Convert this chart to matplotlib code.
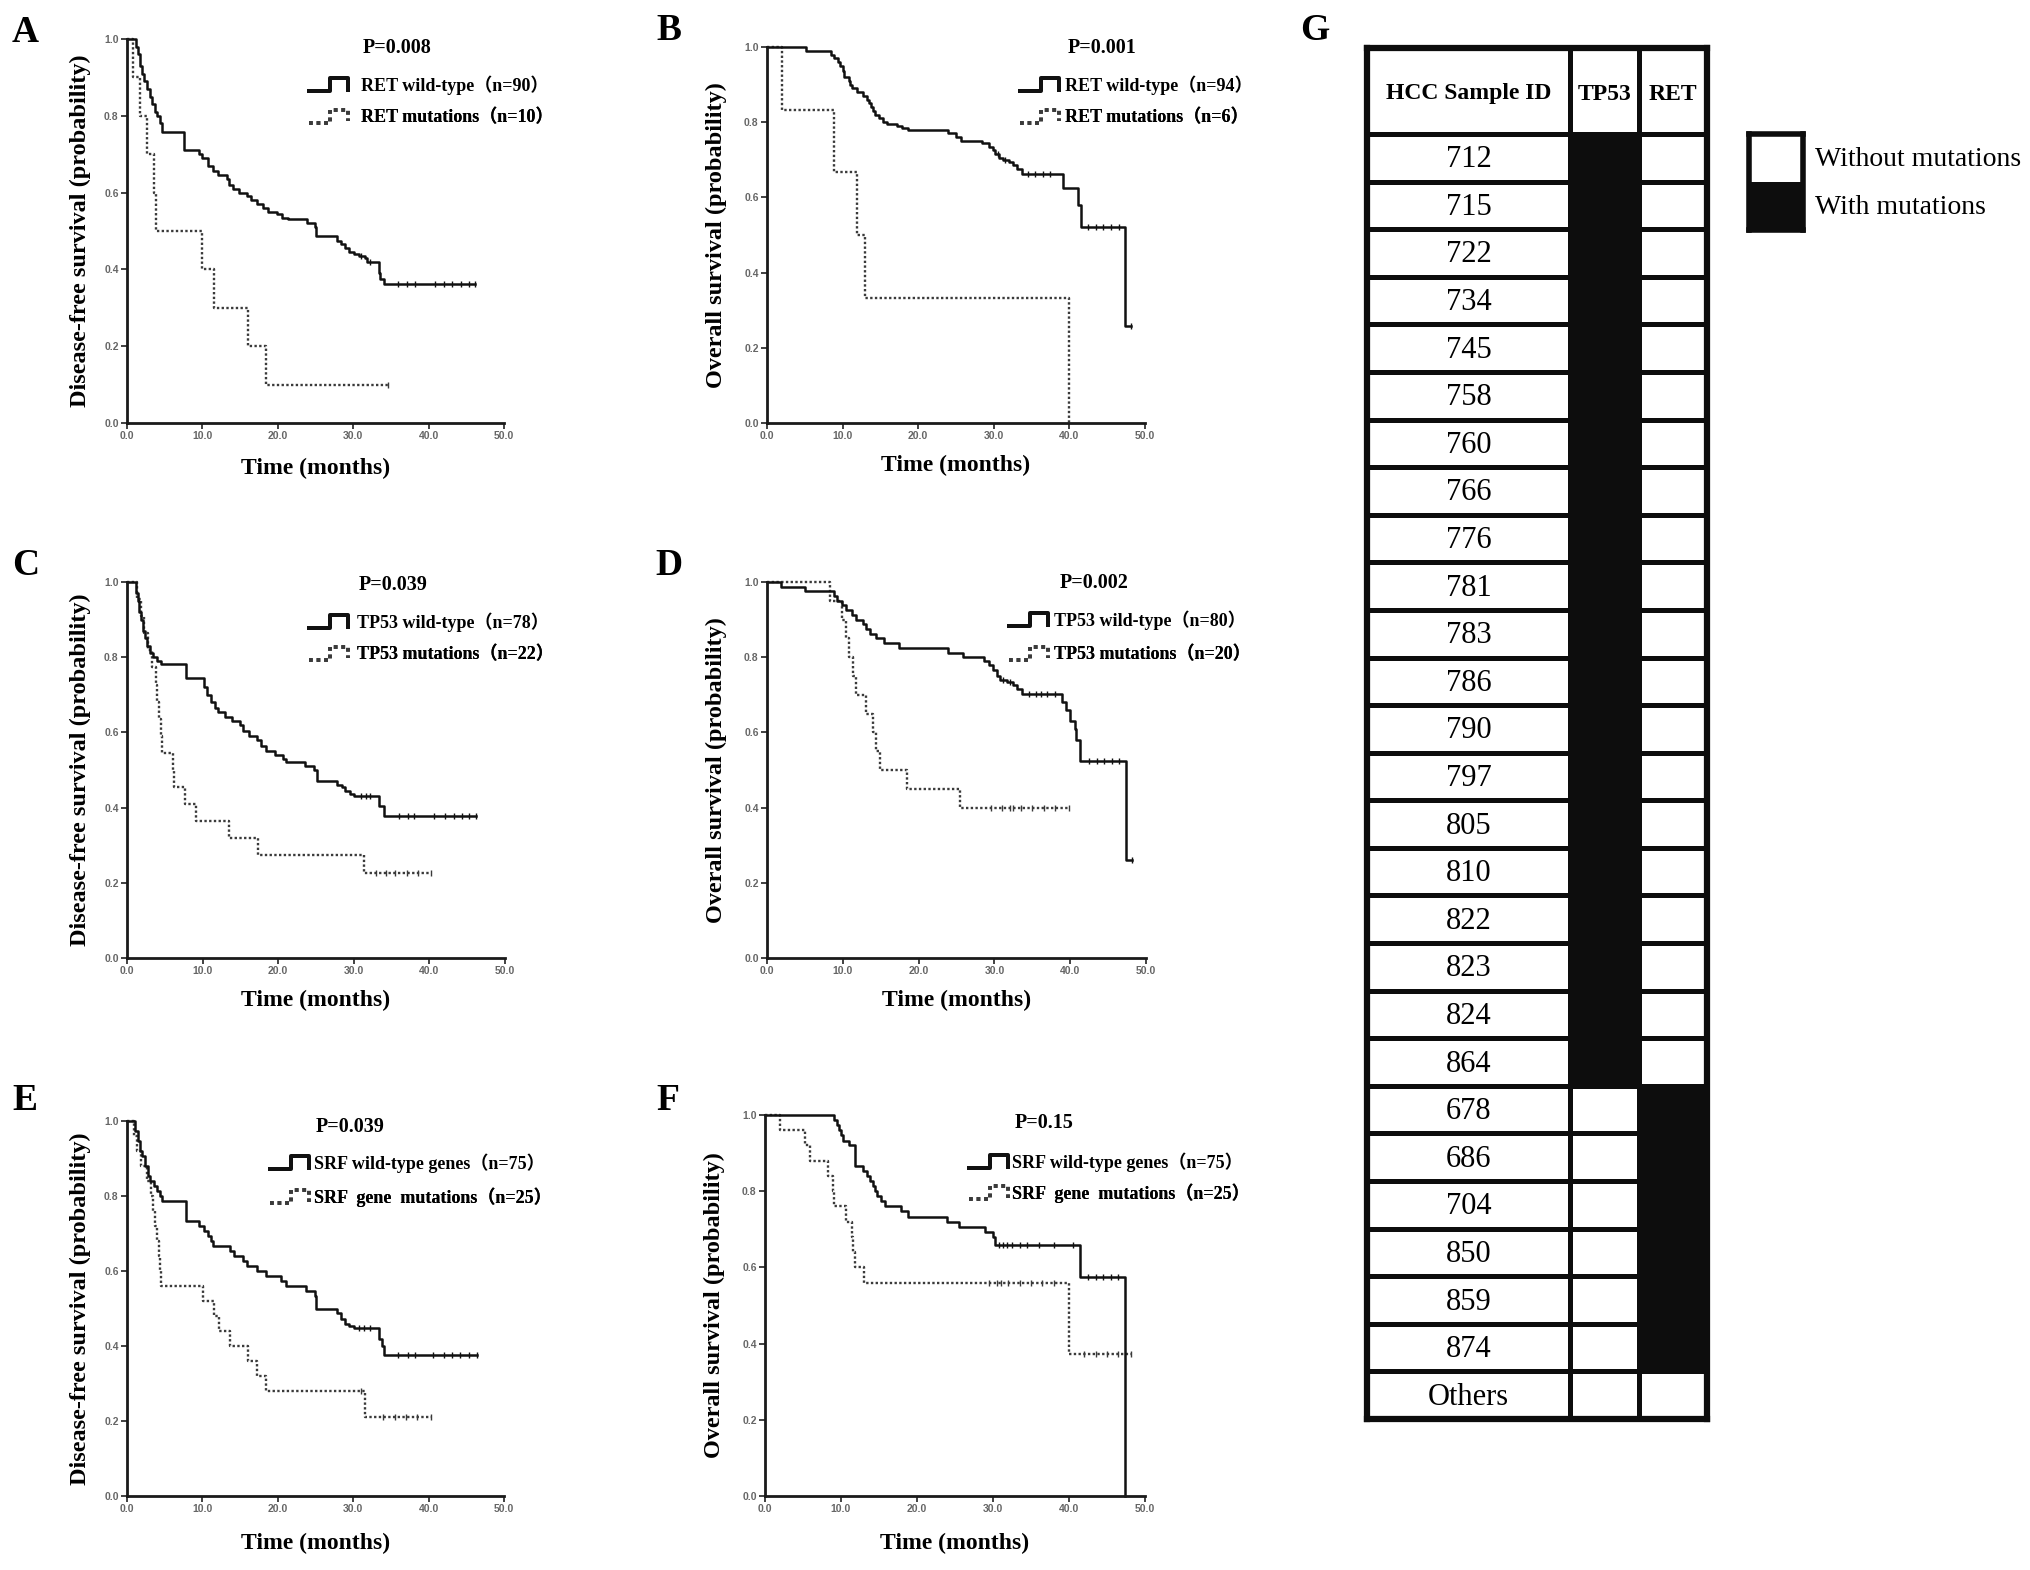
import numpy as np
import matplotlib
matplotlib.use('Agg')
import matplotlib.pyplot as plt
from matplotlib.lines import Line2D
from matplotlib.legend_handler import HandlerBase
from matplotlib.colors import ListedColormap
from matplotlib.font_manager import FontProperties

SERIF = ['Liberation Serif', 'Noto Sans CJK SC']
plt.rcParams['font.family'] = SERIF

# ---------------- DATA ----------------
# Panel A: Disease-free survival, RET
a_wt_t = [0, 1.2, 1.5, 1.7, 2.0, 2.3, 2.6, 3.0, 3.3, 3.7, 4.0, 4.4, 4.7, 7.6, 9.5, 10.0, 10.7, 11.4, 12.1, 13.3,
          13.5, 14.0, 14.9, 15.9, 16.4, 17.3, 18.0, 18.7, 19.9, 20.6, 21.3, 23.9, 24.9, 25.1, 27.9, 28.4, 28.9,
          29.4, 30.1, 30.8, 31.5, 31.8, 33.4, 33.6, 34.1, 46.2]
a_wt_s = [1.0, 0.98, 0.96, 0.93, 0.91, 0.89, 0.87, 0.85, 0.83, 0.81, 0.80, 0.78, 0.757, 0.711, 0.70, 0.69, 0.67,
          0.655, 0.645, 0.635, 0.62, 0.61, 0.60, 0.59, 0.58, 0.57, 0.56, 0.55, 0.545, 0.535, 0.53, 0.52, 0.51,
          0.486, 0.475, 0.465, 0.455, 0.445, 0.44, 0.435, 0.43, 0.42, 0.39, 0.375, 0.362, 0.362]
a_wt_c = [31.0, 32.2, 36.0, 37.2, 38.2, 40.8, 42.0, 43.1, 44.3, 45.3, 46.2]
a_mu_t = [0, 0.8, 1.7, 2.6, 3.6, 3.8, 10.0, 11.6, 16.0, 18.5, 34.6]
a_mu_s = [1.0, 0.9, 0.8, 0.7, 0.6, 0.5, 0.4, 0.3, 0.2, 0.1, 0.1]
a_mu_c = [34.6]

# Panel B: Overall survival, RET
b_wt_t = [0, 5.1, 8.4, 8.9, 9.4, 9.7, 10.0, 10.2, 10.8, 11.0, 11.3, 11.9, 12.7, 13.2, 13.5, 13.7, 14.0, 14.3,
          14.8, 15.4, 15.9, 17.2, 17.8, 18.6, 24.0, 25.0, 25.6, 28.5, 29.4, 29.9, 30.2, 30.7, 31.2, 32.0, 32.6,
          33.1, 33.7, 39.1, 41.1, 41.5, 47.4, 48.2]
b_wt_s = [1.0, 0.99, 0.98, 0.97, 0.96, 0.95, 0.935, 0.92, 0.91, 0.90, 0.89, 0.88, 0.87, 0.86, 0.85, 0.84, 0.83,
          0.82, 0.81, 0.80, 0.795, 0.79, 0.785, 0.78, 0.77, 0.76, 0.75, 0.745, 0.735, 0.725, 0.715, 0.705, 0.70,
          0.695, 0.685, 0.675, 0.662, 0.624, 0.58, 0.52, 0.258, 0.258]
b_wt_c = [30.5, 31.5, 34.5, 35.5, 36.5, 37.5, 42.5, 43.5, 44.5, 45.5, 46.5, 48.2]
b_mu_t = [0, 2.0, 8.9, 11.9, 13.0, 40.0]
b_mu_s = [1.0, 0.833, 0.667, 0.5, 0.333, 0.0]
b_mu_c = []

# Panel C: Disease-free survival, TP53
c_wt_t = [0, 1.2, 1.45, 1.65, 1.9, 2.1, 2.35, 2.7, 3.1, 3.5, 4.0, 4.5, 7.8, 10.2, 10.6, 11.1, 11.6, 12.1, 13.0,
          13.9, 14.9, 15.4, 16.1, 17.2, 17.7, 18.4, 19.6, 20.6, 21.0, 23.6, 24.8, 25.1, 27.8, 28.4, 28.9, 29.5,
          30.0, 33.3, 34.0, 46.2]
c_wt_s = [1.0, 0.97, 0.95, 0.92, 0.90, 0.87, 0.85, 0.83, 0.81, 0.80, 0.79, 0.783, 0.745, 0.72, 0.70, 0.68,
          0.665, 0.655, 0.64, 0.63, 0.62, 0.605, 0.59, 0.58, 0.565, 0.55, 0.54, 0.53, 0.52, 0.51, 0.50, 0.47,
          0.46, 0.455, 0.445, 0.435, 0.43, 0.405, 0.378, 0.378]
c_wt_c = [31.0, 31.6, 32.2, 36.0, 37.2, 38.0, 40.6, 42.0, 43.2, 44.3, 45.3, 46.2]
c_mu_t = [0, 1.3, 1.8, 2.3, 2.8, 3.3, 3.85, 4.0, 4.25, 4.45, 4.6, 6.05, 6.2, 7.7, 9.1, 13.5, 17.3, 31.4, 40.2]
c_mu_s = [1.0, 0.955, 0.909, 0.864, 0.818, 0.773, 0.727, 0.682, 0.636, 0.591, 0.545, 0.50, 0.455, 0.409,
          0.364, 0.318, 0.273, 0.227, 0.227]
c_mu_c = [33.0, 34.2, 35.5, 37.0, 38.5, 40.2]

# Panel D: Overall survival, TP53
d_wt_t = [0, 1.8, 5.0, 8.8, 9.3, 9.9, 10.4, 11.2, 11.7, 12.6, 13.1, 13.6, 14.4, 15.5, 17.4, 23.9, 25.8, 28.6,
          29.3, 29.8, 30.3, 30.8, 31.6, 32.5, 33.0, 33.6, 38.9, 39.5, 40.0, 40.6, 40.8, 41.3, 47.3, 48.1]
d_wt_s = [1.0, 0.988, 0.975, 0.963, 0.95, 0.94, 0.925, 0.912, 0.90, 0.888, 0.875, 0.863, 0.85, 0.838, 0.825,
          0.812, 0.80, 0.79, 0.78, 0.765, 0.75, 0.74, 0.735, 0.725, 0.715, 0.703, 0.68, 0.66, 0.63, 0.61, 0.58,
          0.524, 0.261, 0.261]
d_wt_c = [31.2, 32.0, 34.5, 35.5, 36.2, 37.0, 38.0, 42.5, 43.5, 44.5, 45.5, 46.5, 48.1]
d_mu_t = [0, 8.3, 9.9, 10.4, 10.8, 11.3, 11.7, 13.1, 14.0, 14.4, 14.9, 18.5, 25.5, 39.8]
d_mu_s = [1.0, 0.95, 0.90, 0.85, 0.80, 0.75, 0.70, 0.65, 0.60, 0.55, 0.50, 0.45, 0.40, 0.40]
d_mu_c = [29.5, 31.0, 32.0, 32.5, 33.5, 35.0, 36.5, 38.0, 39.8]

# Panel E: Disease-free survival, SRF
e_wt_t = [0, 1.1, 1.4, 1.7, 2.0, 2.4, 2.8, 3.1, 3.6, 4.0, 4.4, 4.7, 7.8, 9.5, 10.2, 10.7, 11.1, 11.4, 13.7,
          14.2, 15.4, 15.9, 17.3, 18.5, 20.4, 21.1, 23.8, 24.9, 25.1, 27.9, 28.4, 28.9, 29.4, 30.1, 33.4, 33.8,
          34.1, 46.4]
e_wt_s = [1.0, 0.973, 0.947, 0.92, 0.907, 0.88, 0.853, 0.84, 0.827, 0.813, 0.80, 0.787, 0.733, 0.72, 0.707,
          0.693, 0.68, 0.667, 0.653, 0.64, 0.627, 0.613, 0.60, 0.587, 0.573, 0.56, 0.547, 0.533, 0.50, 0.487,
          0.473, 0.46, 0.453, 0.447, 0.42, 0.40, 0.375, 0.375]
e_wt_c = [30.8, 31.4, 32.2, 36.0, 37.3, 38.2, 40.6, 42.0, 43.1, 44.2, 45.3, 46.4]
e_mu_t = [0, 0.9, 1.3, 1.9, 2.6, 3.2, 3.5, 3.7, 4.0, 4.2, 4.35, 4.55, 10.1, 11.6, 12.2, 13.6, 16.1, 17.3, 18.5,
          31.5, 40.3]
e_mu_s = [1.0, 0.96, 0.92, 0.88, 0.84, 0.80, 0.76, 0.72, 0.68, 0.64, 0.60, 0.56, 0.52, 0.48, 0.44, 0.40, 0.36,
          0.32, 0.28, 0.21, 0.21]
e_mu_c = [31.0, 34.0, 35.6, 37.0, 38.5, 40.3]

# Panel F: Overall survival, SRF
f_wt_t = [0, 9.1, 9.5, 9.8, 10.0, 10.3, 11.0, 11.8, 11.9, 12.9, 13.4, 13.8, 14.2, 14.5, 14.7, 15.3, 15.8, 17.9,
          18.8, 24.0, 25.5, 28.9, 30.0, 30.3, 41.5, 47.4]
f_wt_s = [1.0, 0.987, 0.973, 0.96, 0.947, 0.933, 0.92, 0.893, 0.867, 0.853, 0.84, 0.827, 0.813, 0.80, 0.787,
          0.773, 0.76, 0.747, 0.733, 0.72, 0.707, 0.693, 0.68, 0.659, 0.576, 0.0]
f_wt_c = [30.8, 31.3, 31.8, 32.5, 33.5, 34.5, 36.0, 38.0, 40.5, 42.5, 43.5, 44.5, 45.5, 46.5]
f_mu_t = [0, 2.0, 5.3, 5.9, 8.3, 8.95, 9.1, 10.7, 11.4, 11.6, 11.9, 13.0, 40.0, 48.2]
f_mu_s = [1.0, 0.96, 0.92, 0.88, 0.84, 0.80, 0.76, 0.72, 0.68, 0.64, 0.60, 0.56, 0.373, 0.373]
f_mu_c = [29.5, 30.5, 31.0, 32.0, 33.5, 35.0, 36.5, 38.0, 42.0, 43.5, 45.0, 46.5, 48.2]

p_values = ['P=0.008', 'P=0.001', 'P=0.039', 'P=0.002', 'P=0.039', 'P=0.15']
legend_labels = [
    ['RET wild-type（n=90）', 'RET mutations（n=10）'],
    ['RET wild-type（n=94）', 'RET mutations（n=6）'],
    ['TP53 wild-type（n=78）', 'TP53 mutations（n=22）'],
    ['TP53 wild-type（n=80）', 'TP53 mutations（n=20）'],
    ['SRF wild-type genes（n=75）', 'SRF  gene  mutations（n=25）'],
    ['SRF wild-type genes（n=75）', 'SRF  gene  mutations（n=25）'],
]
ylabels = ['Disease-free survival (probability)', 'Overall survival (probability)'] * 3
xlabel = 'Time (months)'
x_ticks = [0, 10, 20, 30, 40, 50]
x_ticklabels = ['0.0', '10.0', '20.0', '30.0', '40.0', '50.0']
y_ticks = [0.0, 0.2, 0.4, 0.6, 0.8, 1.0]
y_ticklabels = ['0.0', '0.2', '0.4', '0.6', '0.8', '1.0']

# Panel G table
sample_ids = ['712', '715', '722', '734', '745', '758', '760', '766', '776', '781', '783', '786', '790', '797',
              '805', '810', '822', '823', '824', '864', '678', '686', '704', '850', '859', '874', 'Others']
tp53_mut = [1, 1, 1, 1, 1, 1, 1, 1, 1, 1, 1, 1, 1, 1, 1, 1, 1, 1, 1, 1, 0, 0, 0, 0, 0, 0, 0]
ret_mut = [0, 0, 0, 0, 0, 0, 0, 0, 0, 0, 0, 0, 0, 0, 0, 0, 0, 0, 0, 0, 1, 1, 1, 1, 1, 1, 0]
table_header = ['HCC Sample ID', 'TP53', 'RET']
g_legend = ['Without mutations', 'With mutations']

# ---------------- LAYOUT ----------------
W, H = 2031, 1570
fig = plt.figure(figsize=(W / 100, H / 100), dpi=100)
fig.patch.set_facecolor('white')


def box(x0, y0, x1, y1):
    return [x0 / W, 1 - y1 / H, (x1 - x0) / W, (y1 - y0) / H]


def fx(x):
    return x / W


def fy(y):
    return 1 - y / H


SOLID = dict(color='#111111', lw=1.8, ls='-')
DOTTED = dict(color='#3a3a3a', lw=1.7, ls=(0, (1, 1)))


class StepHandler(HandlerBase):
    def create_artists(self, legend, orig_handle, xdescent, ydescent, width, height, fontsize, trans):
        px = np.array([0.0, 0.55, 0.55, 1.0, 1.0])
        py = np.array([0.0, 0.0, 1.0, 1.0, 0.1])
        ln = Line2D(px * width - xdescent, py * height - ydescent)
        ln.update_from(orig_handle)
        ln.set_linewidth(orig_handle.get_linewidth() * 1.6)
        ln.set_transform(trans)
        return [ln]


def step_at(t, s, c):
    idx = np.searchsorted(np.asarray(t), np.asarray(c), side='right') - 1
    return np.asarray(s)[idx]


def km(ax, t, s, cens, style):
    ax.step(t, s, where='post', clip_on=False, **style)
    if len(cens):
        ax.plot(cens, step_at(t, s, cens), ls='none', marker='|', ms=4.5, mew=1.0,
                color=style['color'], clip_on=False)


panels = [
    dict(box=(127, 39, 504, 423), letter='A', lpos=(12, 42), data=(a_wt_t, a_wt_s, a_wt_c, a_mu_t, a_mu_s, a_mu_c),
         ppos=(397, 48), leg=(309, 85, 118, 0.72), ylx=-0.095, xly=-0.09),
    dict(box=(767, 47, 1145, 423), letter='B', lpos=(656, 40), data=(b_wt_t, b_wt_s, b_wt_c, b_mu_t, b_mu_s, b_mu_c),
         ppos=(1102, 48), leg=(1020, 85, 118, 0.33), ylx=-0.106, xly=-0.085),
    dict(box=(127, 582, 505, 958), letter='C', lpos=(12, 575), data=(c_wt_t, c_wt_s, c_wt_c, c_mu_t, c_mu_s, c_mu_c),
         ppos=(393, 585), leg=(309, 622, 655, 0.5), ylx=-0.095, xly=-0.085),
    dict(box=(767, 582, 1146, 958), letter='D', lpos=(655, 575), data=(d_wt_t, d_wt_s, d_wt_c, d_mu_t, d_mu_s, d_mu_c),
         ppos=(1094, 583), leg=(1009, 620, 655, 0.33), ylx=-0.106, xly=-0.085),
    dict(box=(127, 1121, 504, 1496), letter='E', lpos=(12, 1110), data=(e_wt_t, e_wt_s, e_wt_c, e_mu_t, e_mu_s, e_mu_c),
         ppos=(350, 1127), leg=(270, 1163, 1197, 0.28), ylx=-0.095, xly=-0.099),
    dict(box=(765, 1115, 1145, 1496), letter='F', lpos=(656, 1110), data=(f_wt_t, f_wt_s, f_wt_c, f_mu_t, f_mu_s, f_mu_c),
         ppos=(1044, 1123), leg=(969, 1162, 1193, 0.22), ylx=-0.106, xly=-0.097),
]

leg_prop = FontProperties(family=SERIF, weight='bold', size=13)

for i, p in enumerate(panels):
    ax = fig.add_axes(box(*p['box']))
    wt_t, wt_s, wt_c, mu_t, mu_s, mu_c = p['data']
    km(ax, mu_t, mu_s, mu_c, DOTTED)
    km(ax, wt_t, wt_s, wt_c, SOLID)
    ax.set_xlim(0, 50)
    ax.set_ylim(0, 1.0)
    for sp in ['top', 'right']:
        ax.spines[sp].set_visible(False)
    for sp in ['left', 'bottom']:
        ax.spines[sp].set_linewidth(2.0)
        ax.spines[sp].set_color('#1a1a1a')
    ax.set_xticks(x_ticks)
    ax.set_xticklabels(x_ticklabels)
    ax.set_yticks(y_ticks)
    ax.set_yticklabels(y_ticklabels)
    ax.tick_params(direction='out', length=4, width=1.3, color='#333333', labelsize=7.5,
                   labelcolor='#666666', pad=2)
    for lab in ax.get_xticklabels() + ax.get_yticklabels():
        lab.set_fontfamily('Liberation Sans')
        lab.set_fontweight('bold')
    ax.set_ylabel(ylabels[i], fontsize=17.5, fontweight='bold')
    ax.yaxis.set_label_coords(p['ylx'], 0.5)
    ax.set_xlabel(xlabel, fontsize=17, fontweight='bold')
    ax.xaxis.set_label_coords(0.5, p['xly'])
    ax.patch.set_alpha(0)

    fig.text(fx(p['lpos'][0]), fy(p['lpos'][1]), p['letter'], fontsize=27, fontweight='bold',
             va='baseline', ha='left')
    fig.text(fx(p['ppos'][0]), fy(p['ppos'][1]), p_values[i], fontsize=14.5, fontweight='bold',
             va='center', ha='center')

    hx, r1, r2, pad = p['leg']
    handles = [Line2D([], [], **SOLID), Line2D([], [], **DOTTED)]
    for h, lab, ry in zip(handles, legend_labels[i], (r1, r2)):
        leg = ax.legend([h], [lab], loc='center left', bbox_to_anchor=(fx(hx), fy(ry)),
                        bbox_transform=fig.transFigure, frameon=False, borderpad=0, borderaxespad=0,
                        handlelength=2.15, handleheight=0.7, handletextpad=pad, prop=leg_prop,
                        handler_map={Line2D: StepHandler()})
        ax.add_artist(leg)

# ---------------- Panel G ----------------
fig.text(fx(1300), fy(40), 'G', fontsize=27, fontweight='bold', va='baseline', ha='left')

T_L, T_T, T_R, T_B = 1367, 48, 1707, 1419
col_edges = np.array([0, 203, 272, 340])
header_h = 86.0
n_rows = len(sample_ids)
row_h = (T_B - T_T - header_h) / n_rows
row_edges = np.concatenate([[0.0], header_h + np.arange(n_rows + 1) * row_h])

axg = fig.add_axes(box(T_L, T_T, T_R, T_B))
C = np.zeros((n_rows + 1, 3))
C[1:, 1] = tp53_mut
C[1:, 2] = ret_mut
cmap = ListedColormap(['white', '#0d0d0d'])
axg.pcolormesh(col_edges, row_edges, C, cmap=cmap, vmin=0, vmax=1)
axg.hlines(row_edges[1:-1], 0, col_edges[-1], color='#0d0d0d', lw=3.6)
axg.vlines(col_edges[1:-1], 0, row_edges[-1], color='#0d0d0d', lw=3.6)
axg.set_xlim(0, col_edges[-1])
axg.set_ylim(row_edges[-1], 0)
axg.set_xticks([])
axg.set_yticks([])
for sp in axg.spines.values():
    sp.set_linewidth(4.5)
    sp.set_color('#0d0d0d')

col_centers = (col_edges[:-1] + col_edges[1:]) / 2
for j, h in enumerate(table_header):
    axg.text(col_centers[j], header_h / 2 + 3, h, ha='center', va='center', fontsize=17, fontweight='bold')
for k, sid in enumerate(sample_ids):
    yc = (row_edges[k + 1] + row_edges[k + 2]) / 2
    axg.text(col_centers[0], yc + 2, sid, ha='center', va='center', fontsize=22)

# legend for G
axl = fig.add_axes(box(1749, 134, 1803, 230))
axl.pcolormesh([0, 1], [0, 1, 2], np.array([[0], [1]]), cmap=cmap, vmin=0, vmax=1)
axl.set_xlim(0, 1)
axl.set_ylim(2, 0)
axl.set_xticks([])
axl.set_yticks([])
for sp in axl.spines.values():
    sp.set_linewidth(4.0)
    sp.set_color('#0d0d0d')
fig.text(fx(1815), fy(160), g_legend[0], fontsize=20, va='center', ha='left')
fig.text(fx(1815), fy(207), g_legend[1], fontsize=20, va='center', ha='left')

fig.savefig('out.png', dpi=100, facecolor='white')
